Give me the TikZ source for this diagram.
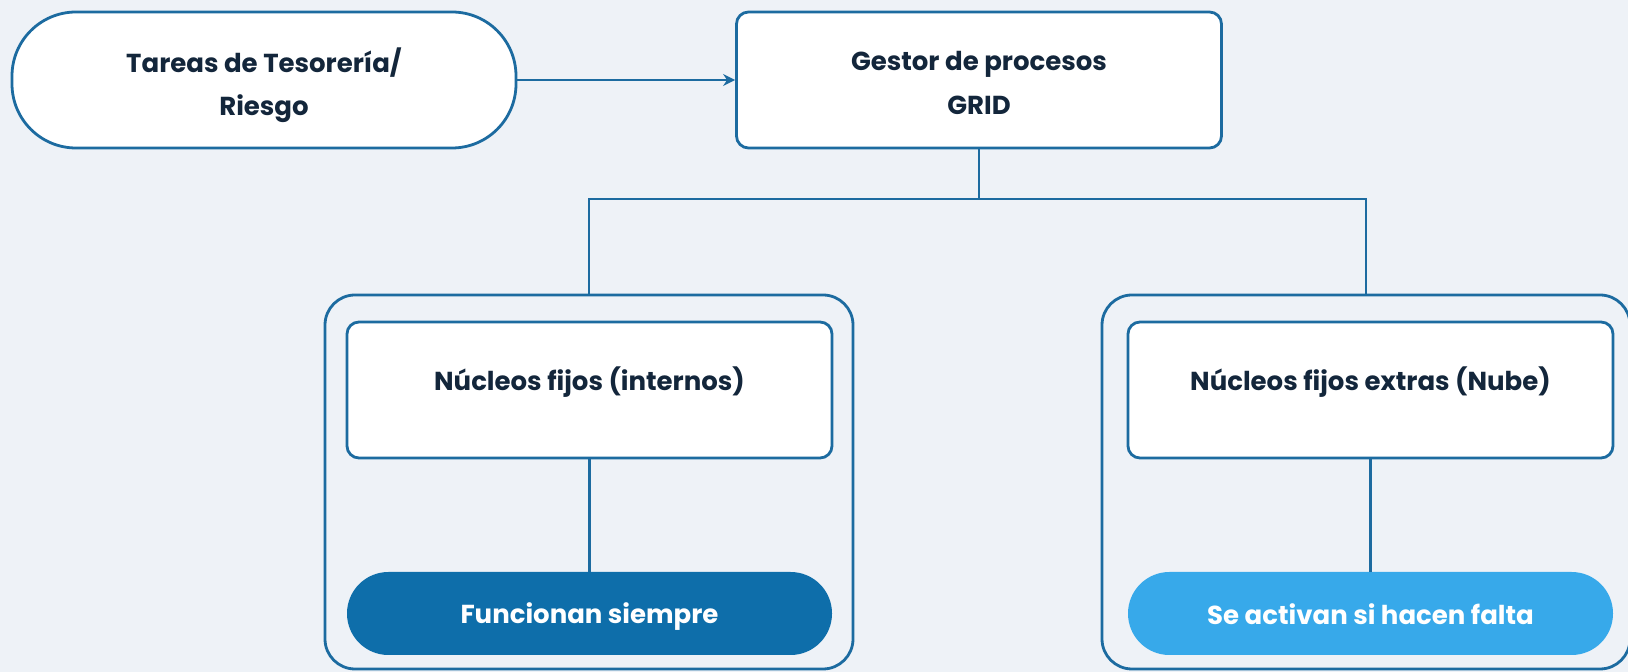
\documentclass[tikz,border=0pt]{standalone}
\usepackage{fontspec}
\setmainfont{Poppins}
\usepackage{tikz}
\usetikzlibrary{arrows.meta, positioning}
\definecolor{fondo}{HTML}{EEF2F7}
\definecolor{borde}{HTML}{1C6BA0}
\definecolor{texto}{HTML}{13263B}
\definecolor{azuloscuro}{HTML}{0E6EAA}
\definecolor{azulclaro}{HTML}{37A9EA}
\tikzstyle{tarea} = [rectangle, rounded corners=32pt, minimum width=252pt, minimum height=68pt, text centered, draw=borde, fill=white, line width=1.4pt, align=center]
\tikzstyle{process} = [rectangle, rounded corners=6pt, minimum width=242.5pt, minimum height=68pt, text centered, draw=borde, fill=white, line width=1.4pt, align=center]
\tikzstyle{contenedor} = [rectangle, rounded corners=15pt, minimum width=264pt, minimum height=187pt, draw=borde, line width=1.4pt]
\tikzstyle{pastilla} = [rectangle, rounded corners=20.7pt, minimum width=242.5pt, minimum height=41.5pt, text centered, text=white, inner sep=0pt]
\tikzstyle{arrow} = [line width=1.2pt, draw=borde, -{Stealth[length=6pt, width=6pt]}]
\tikzstyle{linea} = [line width=1.2pt, draw=borde]

\begin{document}
\begin{tikzpicture}[x=0.5pt, y=-0.5pt, font=\fontsize{13}{21.8}\selectfont\bfseries, text=texto]
    \fill[fondo] (0,0) rectangle (1628,672);
    \useasboundingbox (0,0) rectangle (1628,672);
    \node (tareas) [tarea, text height=39.4pt] at (264,80) {Tareas de Tesorería/\\Riesgo};
    \node (gestor) [process, text height=34.4pt] at (979,80) {Gestor de procesos\\GRID};
    \node (contInt) [contenedor] at (589,482) {};
    \node (contExt) [contenedor] at (1366,482) {};
    \node (internos) [process] at (589.5,390) {\raisebox{4pt}[\height][\depth]{Núcleos fijos (internos)}};
    \node (nube) [process] at (1370.5,390) {\raisebox{4pt}[\height][\depth]{Núcleos fijos extras (Nube)}};
    \node (siempre) [pastilla, fill=azuloscuro] at (589.5,613.5) {\raisebox{-1.5pt}[\height][\depth]{Funcionan siempre}};
    \node (falta) [pastilla, fill=azulclaro] at (1370.5,613.5) {\raisebox{-0.5pt}[\height][\depth]{Se activan si hacen falta}};
    \coordinate (reparto) at (979,199);
    \draw [arrow] (tareas) -- (gestor);
    \draw [linea] (gestor.south) -- (reparto);
    \draw [linea] (reparto) -| (contInt.north);
    \draw [linea] (reparto) -| (contExt.north);
    \draw [linea] (internos) -- (siempre);
    \draw [linea] (nube) -- (falta);
\end{tikzpicture}
\end{document}
